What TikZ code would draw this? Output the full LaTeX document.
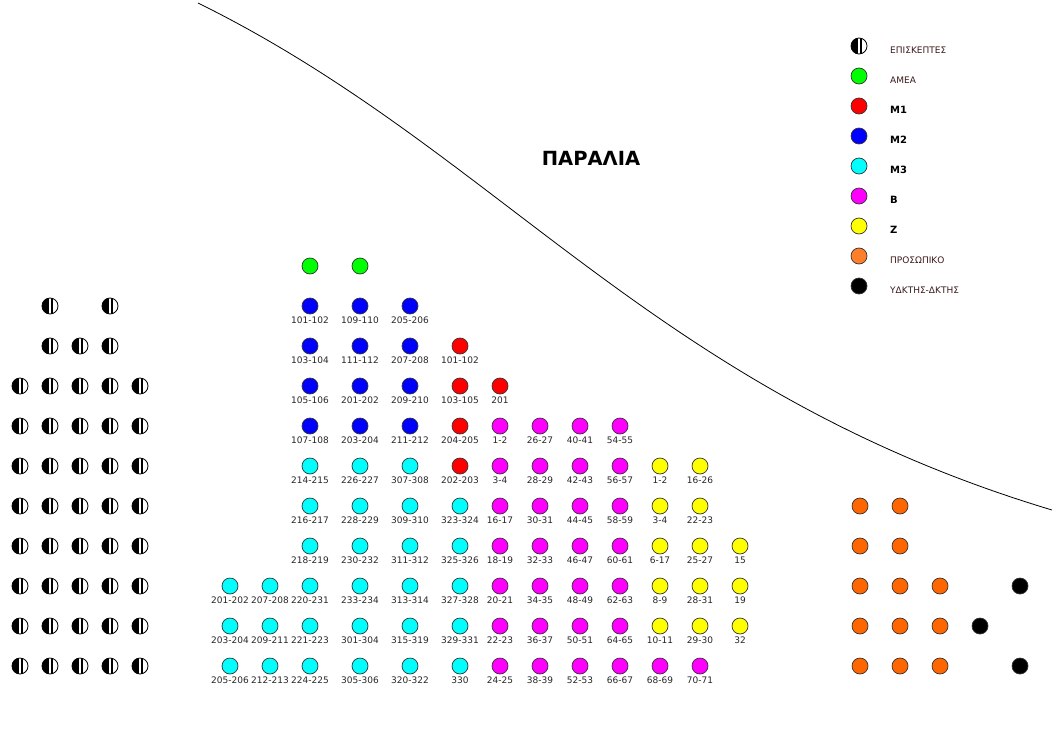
\documentclass[tikz,border=0pt]{standalone}
\usepackage{fontspec}
\setmainfont{DejaVu Sans}
\definecolor{legtxt}{RGB}{60,25,25}
\definecolor{orangeS}{RGB}{255,102,0}
\definecolor{orangeL}{RGB}{255,127,42}
\definecolor{cG}{RGB}{0,255,0}
\definecolor{cR}{RGB}{255,0,0}
\definecolor{cB}{RGB}{0,0,255}
\definecolor{cC}{RGB}{0,255,255}
\definecolor{cM}{RGB}{255,0,255}
\definecolor{cY}{RGB}{255,255,0}
\tikzset{
  seat/.style={circle,draw=black!80,line width=0.7pt,minimum size=16pt,inner sep=0pt},
  lbl/.style={font=\fontsize{9}{10}\selectfont,text=black!85,inner sep=0pt},
  legn/.style={font=\fontsize{9}{10}\selectfont,text=legtxt,anchor=west,inner sep=0pt},
  legb/.style={font=\bfseries\fontsize{10}{11}\selectfont,text=black,anchor=west,inner sep=0pt},
  visitor/.style={circle,draw=black,line width=0.8pt,minimum size=16pt,inner sep=0pt,
    path picture={
      \fill[black] ([xshift=-9pt,yshift=9pt]path picture bounding box.center) rectangle ([xshift=-1.5pt,yshift=-9pt]path picture bounding box.center);
      \fill[black] ([xshift=0.5pt,yshift=9pt]path picture bounding box.center) rectangle ([xshift=3pt,yshift=-9pt]path picture bounding box.center);
    }},
}
\newcommand{\seat}[5]{\node[seat,fill=#2] (#1) at (#3,#4) {}; \node[lbl] (#1t) at (#3,#4+14) {#5};}
\begin{document}
\begin{tikzpicture}[x=1pt,y=-1pt]
\useasboundingbox (0,0) rectangle (1052,744);

% shoreline
\draw[line width=0.8pt] (198,3) .. controls (500,152) and (652,390) .. (1052,510);
\node[font=\bfseries\fontsize{19.5}{21}\selectfont] (beach) at (591,158) {ΠΑΡΑΛΙΑ};

% legend
\node[visitor] (Lv) at (859,46) {};
\node[legn] (Lvt) at (890,50) {ΕΠΙΣΚΕΠΤΕΣ};
\node[seat,fill=cG] (La) at (859,76) {};
\node[legn] (Lat) at (890,80) {ΑΜΕΑ};
\node[seat,fill=cR] (L1) at (859,106) {};
\node[legb] (L1t) at (890,110) {M1};
\node[seat,fill=cB] (L2) at (859,136) {};
\node[legb] (L2t) at (890,140) {M2};
\node[seat,fill=cC] (L3) at (859,166) {};
\node[legb] (L3t) at (890,170) {M3};
\node[seat,fill=cM] (LB) at (859,196) {};
\node[legb] (LBt) at (890,200) {B};
\node[seat,fill=cY] (LZ) at (859,226) {};
\node[legb] (LZt) at (890,230) {Z};
\node[seat,fill=orangeL] (LP) at (859,256) {};
\node[legn] (LPt) at (890,260) {ΠΡΟΣΩΠΙΚΟ};
\node[seat,fill=black] (LY) at (859,286) {};
\node[legn] (LYt) at (890,290) {ΥΔΚΤΗΣ-ΔΚΤΗΣ};

% visitors
\node[visitor] (v1a) at (50,306) {};
\node[visitor] (v1b) at (110,306) {};
\node[visitor] (v2a) at (50,346) {};
\node[visitor] (v2b) at (80,346) {};
\node[visitor] (v2c) at (110,346) {};
\foreach \r in {0,...,7} {
  \foreach \x in {20,50,80,110,140} {
    \node[visitor] (v-\r-\x) at (\x,386+40*\r) {};
  }
}

% AMEA
\node[seat,fill=cG] (g1) at (310,266) {};
\node[seat,fill=cG] (g2) at (360,266) {};

% M2
\seat{b1}{cB}{310}{306}{101-102}
\seat{b2}{cB}{310}{346}{103-104}
\seat{b3}{cB}{310}{386}{105-106}
\seat{b4}{cB}{310}{426}{107-108}
\seat{b5}{cB}{360}{306}{109-110}
\seat{b6}{cB}{360}{346}{111-112}
\seat{b7}{cB}{360}{386}{201-202}
\seat{b8}{cB}{360}{426}{203-204}
\seat{b9}{cB}{410}{306}{205-206}
\seat{b10}{cB}{410}{346}{207-208}
\seat{b11}{cB}{410}{386}{209-210}
\seat{b12}{cB}{410}{426}{211-212}

% M1
\seat{r1}{cR}{460}{346}{101-102}
\seat{r2}{cR}{460}{386}{103-105}
\seat{r3}{cR}{460}{426}{204-205}
\seat{r4}{cR}{460}{466}{202-203}
\seat{r5}{cR}{500}{386}{201}

% M3
\seat{c1}{cC}{310}{466}{214-215}
\seat{c2}{cC}{310}{506}{216-217}
\seat{c3}{cC}{310}{546}{218-219}
\seat{c4}{cC}{310}{586}{220-231}
\seat{c5}{cC}{310}{626}{221-223}
\seat{c6}{cC}{310}{666}{224-225}
\seat{c7}{cC}{360}{466}{226-227}
\seat{c8}{cC}{360}{506}{228-229}
\seat{c9}{cC}{360}{546}{230-232}
\seat{c10}{cC}{360}{586}{233-234}
\seat{c11}{cC}{360}{626}{301-304}
\seat{c12}{cC}{360}{666}{305-306}
\seat{c13}{cC}{410}{466}{307-308}
\seat{c14}{cC}{410}{506}{309-310}
\seat{c15}{cC}{410}{546}{311-312}
\seat{c16}{cC}{410}{586}{313-314}
\seat{c17}{cC}{410}{626}{315-319}
\seat{c18}{cC}{410}{666}{320-322}
\seat{c19}{cC}{460}{506}{323-324}
\seat{c20}{cC}{460}{546}{325-326}
\seat{c21}{cC}{460}{586}{327-328}
\seat{c22}{cC}{460}{626}{329-331}
\seat{c23}{cC}{460}{666}{330}
\seat{c24}{cC}{230}{586}{201-202}
\seat{c25}{cC}{230}{626}{203-204}
\seat{c26}{cC}{230}{666}{205-206}
\seat{c27}{cC}{270}{586}{207-208}
\seat{c28}{cC}{270}{626}{209-211}
\seat{c29}{cC}{270}{666}{212-213}

% B
\seat{m1}{cM}{500}{426}{1-2}
\seat{m2}{cM}{500}{466}{3-4}
\seat{m3}{cM}{500}{506}{16-17}
\seat{m4}{cM}{500}{546}{18-19}
\seat{m5}{cM}{500}{586}{20-21}
\seat{m6}{cM}{500}{626}{22-23}
\seat{m7}{cM}{500}{666}{24-25}
\seat{m8}{cM}{540}{426}{26-27}
\seat{m9}{cM}{540}{466}{28-29}
\seat{m10}{cM}{540}{506}{30-31}
\seat{m11}{cM}{540}{546}{32-33}
\seat{m12}{cM}{540}{586}{34-35}
\seat{m13}{cM}{540}{626}{36-37}
\seat{m14}{cM}{540}{666}{38-39}
\seat{m15}{cM}{580}{426}{40-41}
\seat{m16}{cM}{580}{466}{42-43}
\seat{m17}{cM}{580}{506}{44-45}
\seat{m18}{cM}{580}{546}{46-47}
\seat{m19}{cM}{580}{586}{48-49}
\seat{m20}{cM}{580}{626}{50-51}
\seat{m21}{cM}{580}{666}{52-53}
\seat{m22}{cM}{620}{426}{54-55}
\seat{m23}{cM}{620}{466}{56-57}
\seat{m24}{cM}{620}{506}{58-59}
\seat{m25}{cM}{620}{546}{60-61}
\seat{m26}{cM}{620}{586}{62-63}
\seat{m27}{cM}{620}{626}{64-65}
\seat{m28}{cM}{620}{666}{66-67}
\seat{m29}{cM}{660}{666}{68-69}
\seat{m30}{cM}{700}{666}{70-71}

% Z
\seat{y1}{cY}{660}{466}{1-2}
\seat{y2}{cY}{660}{506}{3-4}
\seat{y3}{cY}{660}{546}{6-17}
\seat{y4}{cY}{660}{586}{8-9}
\seat{y5}{cY}{660}{626}{10-11}
\seat{y6}{cY}{700}{466}{16-26}
\seat{y7}{cY}{700}{506}{22-23}
\seat{y8}{cY}{700}{546}{25-27}
\seat{y9}{cY}{700}{586}{28-31}
\seat{y10}{cY}{700}{626}{29-30}
\seat{y11}{cY}{740}{546}{15}
\seat{y12}{cY}{740}{586}{19}
\seat{y13}{cY}{740}{626}{32}

% staff
\foreach \y in {506,546,586,626,666} {
  \node[seat,fill=orangeS] (o1-\y) at (860,\y) {};
  \node[seat,fill=orangeS] (o2-\y) at (900,\y) {};
}
\foreach \y in {586,626,666} {
  \node[seat,fill=orangeS] (o3-\y) at (940,\y) {};
}

% lifeguards
\node[seat,fill=black] (k1) at (1020,586) {};
\node[seat,fill=black] (k2) at (980,626) {};
\node[seat,fill=black] (k3) at (1020,666) {};
\end{tikzpicture}
\end{document}
